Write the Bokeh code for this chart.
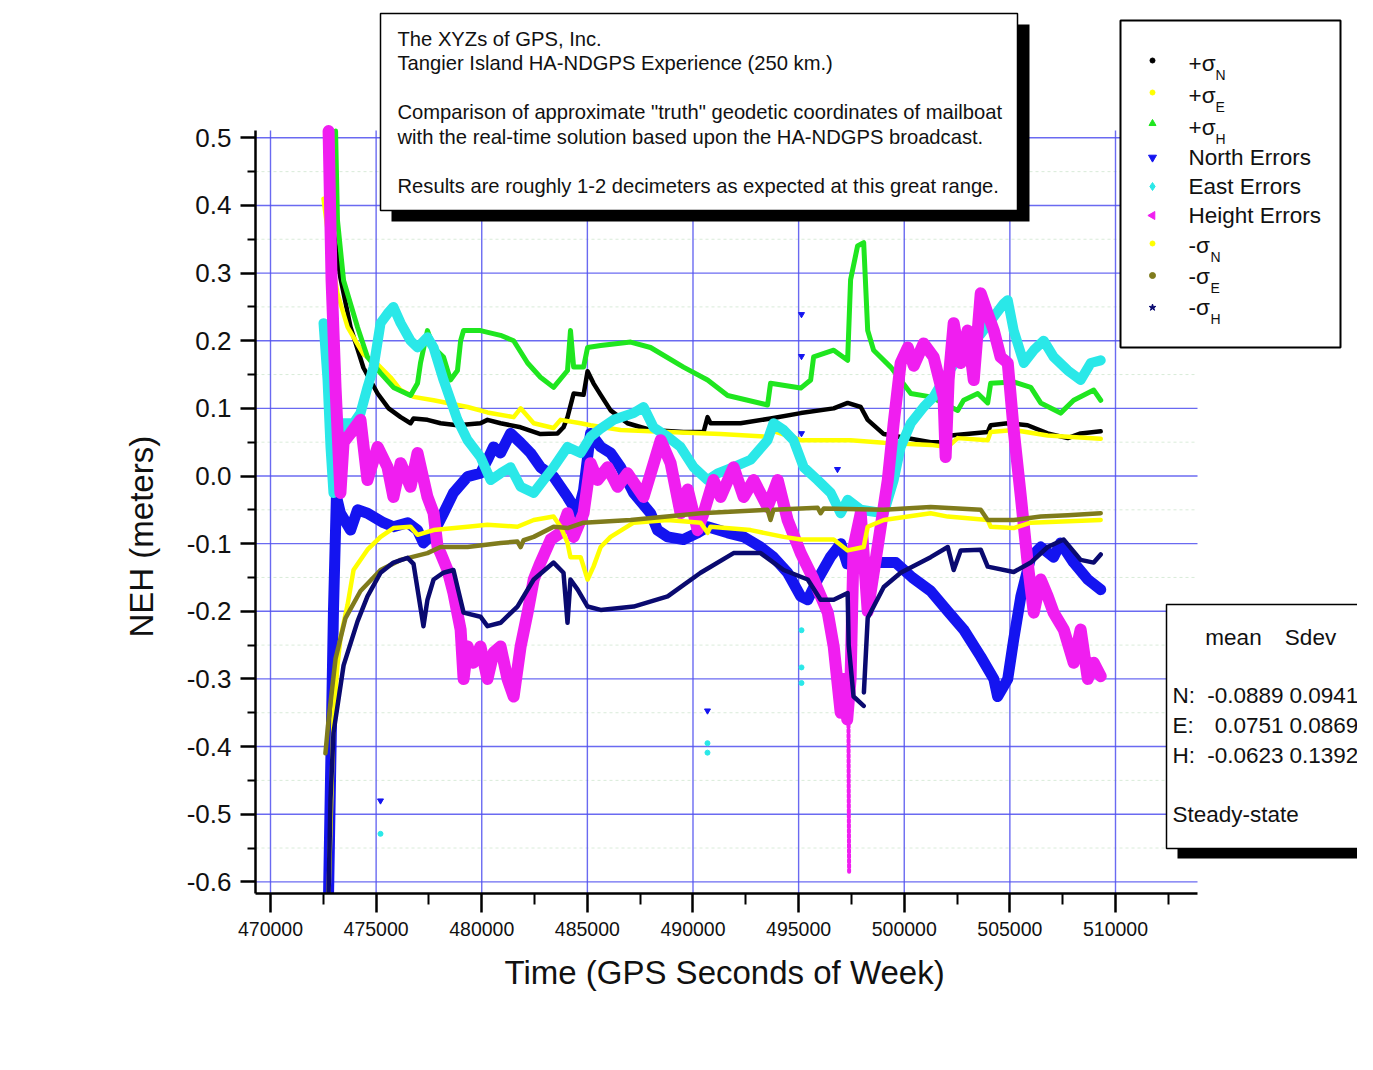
import numpy as np
from bokeh.plotting import figure
from bokeh.models import Range1d, LinearAxis, FixedTicker, PrintfTickFormatter, BasicTickFormatter, Title
from bokeh.embed import file_html
from bokeh.resources import INLINE
from bokeh.core.properties import value

FONT = "Liberation Sans"

# ---------------- data ----------------
x_tick_values = [470000, 475000, 480000, 485000, 490000, 495000, 500000, 505000, 510000]
x_minor_values = [472500, 477500, 482500, 487500, 492500, 497500, 502500, 507500, 512500]
y_tick_values = [-0.6, -0.5, -0.4, -0.3, -0.2, -0.1, 0.0, 0.1, 0.2, 0.3, 0.4, 0.5]
y_minor_values = [-0.55, -0.45, -0.35, -0.25, -0.15, -0.05, 0.05, 0.15, 0.25, 0.35, 0.45]

plus_sigma_n = [(472750, 0.51), (472840, 0.50), (472980, 0.363), (473310, 0.293), (473790, 0.22),
    (474400, 0.16), (475070, 0.122), (475590, 0.10), (476160, 0.087), (476630, 0.078),
    (476770, 0.085), (477430, 0.083), (478050, 0.078), (478850, 0.075), (479940, 0.078),
    (480270, 0.083), (480890, 0.078), (481840, 0.072), (482780, 0.062), (483590, 0.063),
    (483870, 0.072), (484060, 0.087), (484350, 0.122), (484820, 0.12), (485010, 0.155),
    (485290, 0.137), (485630, 0.12), (486100, 0.097), (486900, 0.078), (487990, 0.068),
    (489550, 0.065), (490500, 0.065), (490690, 0.087), (490830, 0.078), (492250, 0.078),
    (493670, 0.085), (495100, 0.093), (496660, 0.10), (497320, 0.108), (497940, 0.102),
    (498270, 0.083), (499030, 0.062), (501250, 0.05), (502060, 0.05), (502200, 0.06),
    (503950, 0.065), (504090, 0.075), (504900, 0.078), (505840, 0.075), (506790, 0.063),
    (507740, 0.056), (508350, 0.063), (509300, 0.066)]

plus_sigma_e = [(472510, 0.41), (472840, 0.33), (473170, 0.27), (473650, 0.22), (474400, 0.18),
    (475070, 0.165), (475680, 0.146), (476160, 0.127), (476770, 0.117), (477720, 0.112),
    (479330, 0.102), (480270, 0.094), (481510, 0.087), (481840, 0.10), (482460, 0.078),
    (483400, 0.071), (483730, 0.083), (484680, 0.078), (485150, 0.075), (486570, 0.068),
    (488800, 0.065), (491310, 0.062), (493530, 0.058), (493670, 0.068), (495100, 0.053),
    (497460, 0.053), (499030, 0.049), (501250, 0.046), (502060, 0.043), (502530, 0.056),
    (503950, 0.053), (504090, 0.065), (505180, 0.068), (506790, 0.06), (509300, 0.055)]

plus_sigma_h = [(473080, 0.51), (473170, 0.378), (473460, 0.289), (474120, 0.22), (474590, 0.176),
    (475210, 0.152), (475820, 0.131), (476630, 0.119), (476960, 0.137), (477100, 0.167),
    (477430, 0.215), (477720, 0.19), (478190, 0.176), (478520, 0.142), (478850, 0.156),
    (479000, 0.20), (479140, 0.215), (479940, 0.215), (480890, 0.208), (481510, 0.20),
    (482170, 0.167), (482780, 0.146), (483400, 0.131), (484060, 0.156), (484200, 0.215),
    (484350, 0.161), (484820, 0.161), (485010, 0.19), (485630, 0.193), (487050, 0.198),
    (487990, 0.19), (489550, 0.161), (490690, 0.142), (491640, 0.119), (493530, 0.105),
    (493670, 0.137), (495100, 0.13), (495570, 0.142), (495710, 0.176), (496660, 0.186),
    (497320, 0.171), (497460, 0.29), (497790, 0.34), (498080, 0.345), (498270, 0.215),
    (498550, 0.186), (499360, 0.161), (500310, 0.122), (501250, 0.117), (502530, 0.097),
    (502810, 0.112), (503480, 0.122), (503950, 0.108), (504090, 0.137), (505180, 0.139),
    (505990, 0.131), (506460, 0.108), (507400, 0.093), (508020, 0.112), (508970, 0.127),
    (509300, 0.112)]

north_errors = [(472750, -0.615), (472840, -0.45), (472980, -0.2), (473120, -0.03), (473310, -0.055),
    (473790, -0.08), (474120, -0.05), (474590, -0.055), (475350, -0.069), (475820, -0.075),
    (476490, -0.069), (476960, -0.08), (477240, -0.099), (477720, -0.084), (478190, -0.055),
    (478660, -0.025), (479330, -0.001), (479940, 0.004), (480270, 0.024), (480560, 0.043),
    (480890, 0.034), (481360, 0.063), (481840, 0.049), (482310, 0.034), (482780, 0.013),
    (483400, -0.001), (484060, -0.031), (484540, -0.055), (484820, -0.021), (485150, 0.063),
    (485630, 0.043), (486100, 0.034), (486570, 0.013), (487190, -0.025), (487990, -0.055),
    (488320, -0.08), (488800, -0.09), (489550, -0.094), (490220, -0.084), (490690, -0.075),
    (491640, -0.084), (492400, -0.09), (493200, -0.105), (493810, -0.12), (494480, -0.143),
    (495100, -0.178), (495430, -0.183), (495900, -0.153), (496500, -0.12), (497000, -0.10),
    (497300, -0.13), (498880, -0.128), (499600, -0.128), (500380, -0.15), (501250, -0.17),
    (502060, -0.2), (502810, -0.227), (503620, -0.267), (504240, -0.30), (504420, -0.326),
    (504900, -0.30), (505180, -0.242), (505520, -0.178), (505990, -0.12), (506460, -0.105),
    (507070, -0.12), (507400, -0.099), (508020, -0.128), (508690, -0.153), (509300, -0.168)]

east_errors = [(472510, 0.226), (472700, 0.142), (472840, 0.043), (472980, -0.025), (473170, 0.05),
    (473460, 0.078), (473930, 0.078), (474260, 0.093), (474590, 0.131), (474880, 0.161),
    (475210, 0.226), (475540, 0.24), (475820, 0.25), (476160, 0.226), (476630, 0.20),
    (476960, 0.19), (477430, 0.205), (477720, 0.19), (478190, 0.142), (478850, 0.083),
    (479330, 0.053), (479940, 0.028), (480420, -0.006), (480890, 0.004), (481360, 0.013),
    (481840, -0.016), (482460, -0.025), (482930, -0.006), (483400, 0.013), (484060, 0.043),
    (484680, 0.034), (485150, 0.058), (485630, 0.07), (486240, 0.083), (487190, 0.093),
    (487660, 0.102), (488130, 0.072), (488800, 0.058), (489410, 0.043), (490030, 0.013),
    (490690, -0.006), (491170, 0.004), (491920, 0.013), (492730, 0.024), (493530, 0.053),
    (493810, 0.078), (494290, 0.068), (494760, 0.053), (495240, 0.013), (495900, -0.006),
    (496520, -0.025), (496990, -0.055), (497320, -0.035), (497940, -0.05), (499030, -0.055),
    (499500, -0.006), (499830, 0.043), (500310, 0.078), (500920, 0.102), (501390, 0.117),
    (502060, 0.152), (502670, 0.18), (503620, 0.21), (504710, 0.255), (504900, 0.26),
    (505180, 0.215), (505660, 0.167), (506130, 0.186), (506600, 0.2), (507070, 0.176),
    (507740, 0.156), (508350, 0.142), (508830, 0.167), (509300, 0.171)]

height_errors = [(472750, 0.51), (472890, 0.29), (473080, 0.13), (473310, -0.025), (473460, 0.05),
    (473790, 0.063), (474260, 0.083), (474590, -0.006), (475070, 0.043), (475540, 0.013),
    (475820, -0.031), (476160, 0.019), (476630, -0.016), (476960, 0.034), (477430, -0.031),
    (477720, -0.055), (477910, -0.105), (478050, -0.114), (478380, -0.139), (478660, -0.173),
    (479000, -0.227), (479140, -0.30), (479330, -0.252), (479610, -0.276), (479940, -0.252),
    (480270, -0.30), (480560, -0.261), (480890, -0.252), (481220, -0.30), (481510, -0.326),
    (481840, -0.252), (482170, -0.202), (482460, -0.153), (482780, -0.128), (483260, -0.094),
    (483730, -0.084), (484060, -0.055), (484350, -0.09), (484820, -0.055), (485150, 0.019),
    (485480, -0.006), (485960, 0.013), (486430, -0.016), (486900, 0.004), (487660, -0.031),
    (488470, 0.053), (488940, 0.019), (489410, -0.055), (489750, -0.02), (490220, -0.08),
    (490500, -0.055), (490970, -0.006), (491310, -0.031), (491920, 0.013), (492400, -0.031),
    (492870, -0.006), (493530, -0.046), (494010, -0.006), (494480, -0.065), (495100, -0.114),
    (495710, -0.153), (496380, -0.202), (496660, -0.252), (496990, -0.35), (497130, -0.30),
    (497300, -0.36), (497460, -0.30), (497600, -0.105), (497940, -0.055),
    (498270, -0.20), (498740, -0.105), (499220, -0.006), (499500, 0.078), (499830, 0.167),
    (500170, 0.19), (500450, 0.163), (500920, 0.196), (501390, 0.176), (501860, 0.117),
    (501960, 0.028), (502100, 0.142), (502340, 0.226), (502670, 0.167), (503000, 0.215),
    (503290, 0.142), (503620, 0.27), (503950, 0.24), (504240, 0.215), (504560, 0.176),
    (504900, 0.167), (505180, 0.068), (505520, -0.031), (505840, -0.128), (506130, -0.202),
    (506460, -0.153), (506790, -0.178), (507070, -0.202), (507550, -0.227), (508020, -0.276),
    (508350, -0.227), (508690, -0.30), (508970, -0.276), (509300, -0.296)]

height_tail = [(497360, -0.36), (497370, -0.45), (497380, -0.52), (497390, -0.585)]

minus_sigma_n = [(472750, -0.615), (472840, -0.52), (472980, -0.36), (473170, -0.28), (473310, -0.24),
    (473650, -0.19), (473930, -0.139), (474590, -0.109), (475210, -0.09), (475820, -0.077),
    (476630, -0.075), (476960, -0.087), (477720, -0.08), (479330, -0.075), (480270, -0.072),
    (481690, -0.075), (482460, -0.065), (483400, -0.06), (483730, -0.075), (484060, -0.099),
    (484200, -0.12), (484680, -0.12), (485010, -0.153), (485290, -0.134), (485630, -0.105),
    (486100, -0.09), (487190, -0.069), (488800, -0.065), (490360, -0.069), (490690, -0.084),
    (490830, -0.075), (492730, -0.08), (494290, -0.09), (495100, -0.094), (496660, -0.094),
    (497320, -0.11), (498080, -0.105), (498270, -0.075), (499030, -0.065), (501250, -0.055),
    (502060, -0.06), (503950, -0.065), (504090, -0.075), (505180, -0.077), (505990, -0.069),
    (509300, -0.065)]

minus_sigma_e = [(472600, -0.41), (472750, -0.36), (473080, -0.27), (473550, -0.21), (474260, -0.17),
    (475210, -0.139), (476160, -0.124), (477430, -0.114), (478050, -0.105), (479330, -0.105),
    (480890, -0.099), (481690, -0.097), (481840, -0.105), (481980, -0.095), (482460, -0.09),
    (483400, -0.075), (484060, -0.077), (484820, -0.069), (487050, -0.065), (490360, -0.055),
    (493530, -0.05), (493670, -0.065), (493810, -0.05), (495900, -0.047), (496040, -0.055),
    (496190, -0.048), (499030, -0.05), (501250, -0.046), (503620, -0.05), (503950, -0.065),
    (505180, -0.065), (506460, -0.06), (507740, -0.058), (509300, -0.055)]

minus_sigma_h = [(472750, -0.615), (472840, -0.478), (472980, -0.38), (473460, -0.28), (474120, -0.215),
    (474590, -0.178), (475210, -0.143), (475820, -0.128), (476490, -0.121), (476770, -0.13),
    (477240, -0.222), (477430, -0.183), (477720, -0.153), (478190, -0.143), (478660, -0.139),
    (478850, -0.164), (479140, -0.202), (479940, -0.208), (480270, -0.222), (480890, -0.217),
    (481690, -0.193), (482460, -0.153), (483400, -0.128), (483870, -0.143), (484060, -0.217),
    (484200, -0.153), (484540, -0.168), (485010, -0.193), (485630, -0.198), (487190, -0.193),
    (488800, -0.178), (490360, -0.143), (491920, -0.114), (493200, -0.114), (494290, -0.139),
    (495430, -0.153), (496040, -0.183), (496660, -0.183), (497320, -0.173), (497370, -0.25),
    (497600, -0.326), (498080, -0.34), (498080, np.nan), (498090, -0.32), (498270, -0.21),
    (499030, -0.164), (499830, -0.143), (501250, -0.12), (502060, -0.105), (502340, -0.139),
    (502670, -0.11), (503620, -0.109), (503950, -0.134), (505180, -0.142), (505990, -0.128),
    (506790, -0.105), (507550, -0.094), (508350, -0.124), (508970, -0.128), (509300, -0.116)]

north_outliers = [(475207, -0.48), (490686, -0.347), (495136, 0.239), (495136, 0.177),
                  (495136, 0.063), (496840, 0.01)]
east_outliers = [(475207, -0.529), (490686, -0.395), (490686, -0.409), (495136, -0.228),
                 (495136, -0.283), (495136, -0.306)]

title_lines = ["The XYZs of GPS, Inc.",
               "Tangier Island HA-NDGPS Experience (250 km.)",
               "Comparison of approximate \"truth\" geodetic coordinates of mailboat",
               "with the real-time solution based upon the HA-NDGPS broadcast.",
               "Results are roughly 1-2 decimeters as expected at this great range."]

legend_main = ["+\u03c3", "+\u03c3", "+\u03c3", "North Errors", "East Errors", "Height Errors",
               "-\u03c3", "-\u03c3", "-\u03c3"]
legend_sub = ["N", "E", "H", "", "", "", "N", "E", "H"]

stats_rows = ["N:", "E:", "H:"]
stats_mean = ["-0.0889", "0.0751", "-0.0623"]
stats_sdev = ["0.0941", "0.0869", "0.1392"]

# ---------------- layout helpers (picture px -> data) ----------------
PX_PER_X = 0.021125
PX_PER_Y = 676.4
X_LO = 469290.0
FIG_W, FIG_H = 1357, 1054
FRAME_L, FRAME_B = 255, 893


def X(px):
    return X_LO + (px - FRAME_L) / PX_PER_X


def Y(py):
    return (475.5 - py) / PX_PER_Y


p = figure(width=FIG_W, height=FIG_H, output_backend="svg", toolbar_location=None,
           x_range=Range1d(X(FRAME_L), X(FIG_W)), y_range=Range1d(Y(FRAME_B), Y(0)),
           x_axis_type=None, y_axis_type=None,
           min_border_left=FRAME_L, min_border_right=0, min_border_top=0,
           min_border_bottom=FIG_H - FRAME_B)
p.outline_line_color = None
p.background_fill_color = "white"
p.border_fill_color = "white"

# axes
xaxis = LinearAxis(bounds=(X(FRAME_L), X(1197)),
                   ticker=FixedTicker(ticks=x_tick_values, minor_ticks=x_minor_values),
                   formatter=BasicTickFormatter(use_scientific=False))
yaxis = LinearAxis(bounds=(Y(FRAME_B), Y(130)),
                   ticker=FixedTicker(ticks=y_tick_values, minor_ticks=y_minor_values),
                   formatter=PrintfTickFormatter(format="%.1f"))
for ax in (xaxis, yaxis):
    ax.axis_line_color = "black"
    ax.axis_line_width = 2.5
    ax.major_tick_line_color = "black"
    ax.minor_tick_line_color = "black"
    ax.major_tick_line_width = 2.5
    ax.minor_tick_line_width = 2
    ax.major_tick_in = 0
    ax.minor_tick_in = 0
    ax.major_label_text_font = FONT
    ax.major_label_text_color = "#111111"
xaxis.major_tick_out = 19
xaxis.minor_tick_out = 11
xaxis.major_label_text_font_size = "19.5px"
xaxis.major_label_standoff = 9
yaxis.major_tick_out = 15
yaxis.minor_tick_out = 8
yaxis.major_label_text_font_size = "26px"
yaxis.major_label_standoff = 9
p.add_layout(xaxis, "below")
p.add_layout(yaxis, "left")

p.add_layout(Title(text="Time (GPS Seconds of Week)", align="left", offset=249, standoff=26,
                   text_font=FONT, text_font_size="33px", text_font_style="normal",
                   text_color="#111111"), "below")
p.add_layout(Title(text="NEH (meters)", align="left", offset=256, standoff=48,
                   text_font=FONT, text_font_size="33px", text_font_style="normal",
                   text_color="#111111"), "left")

# grid lines from tick values
p.segment(x0=[X(FRAME_L)] * len(y_minor_values), x1=[X(1197)] * len(y_minor_values),
          y0=y_minor_values, y1=y_minor_values, line_color="#cfe6cf", line_width=1,
          line_dash="3 3", line_alpha=0.8)
p.segment(x0=x_tick_values, x1=x_tick_values, y0=[Y(FRAME_B)] * len(x_tick_values),
          y1=[Y(130)] * len(x_tick_values), line_color="#5050ee", line_width=1.4, line_alpha=0.85)
p.segment(x0=[X(FRAME_L)] * len(y_tick_values), x1=[X(1197)] * len(y_tick_values),
          y0=y_tick_values, y1=y_tick_values, line_color="#5050ee", line_width=1.4, line_alpha=0.85)


def draw(pairs, color, width, dash="solid"):
    xs = [a for a, b in pairs]
    ys = [b for a, b in pairs]
    p.line(xs, ys, line_color=color, line_width=width, line_join="round", line_cap="round",
           line_dash=dash)


C_BLACK = "#000000"
C_YEL = "#ffff00"
C_GRN = "#1fe61f"
C_BLUE = "#1414f0"
C_CYAN = "#2ae8e8"
C_MAG = "#f01ef0"
C_OLIVE = "#7f7b1c"
C_NAVY = "#0a0a70"

draw(plus_sigma_n, C_BLACK, 4.5)
draw(plus_sigma_e, C_YEL, 4.5)
draw(plus_sigma_h, C_GRN, 5)
draw(north_errors, C_BLUE, 11)
draw(east_errors, C_CYAN, 10)
draw(height_errors, C_MAG, 12)
draw(height_tail, C_MAG, 4, dash="3 2")
draw(minus_sigma_n, C_YEL, 4.5)
draw(minus_sigma_e, C_OLIVE, 4.5)
draw(minus_sigma_h, C_NAVY, 4.5)

p.scatter([a for a, b in north_outliers], [b for a, b in north_outliers],
          marker="inverted_triangle", size=6, color=C_BLUE)
p.scatter([a for a, b in east_outliers], [b for a, b in east_outliers],
          marker="circle", size=5, color=C_CYAN)

# ---------------- title box ----------------
p.quad(left=[X(391)], right=[X(1029)], top=[Y(24)], bottom=[Y(221)], fill_color="black", line_color=None)
p.quad(left=[X(380)], right=[X(1017)], top=[Y(13)], bottom=[Y(210)], fill_color="white",
       line_color="black", line_width=1.5)
p.text(x=[X(397)] * 5, y=[Y(v) for v in [38, 62, 111, 136, 185]], text=title_lines,
       text_font=value(FONT), text_font_size="20.2px", text_baseline="middle", text_align="left",
       text_color="#111111")

# ---------------- legend box ----------------
p.quad(left=[X(1120)], right=[X(1340)], top=[Y(20)], bottom=[Y(347)], fill_color="white",
       line_color="black", line_width=2)
row_y = [63, 95, 127, 157, 186, 215, 245, 276, 307]
mark_y = [60, 92, 123, 157, 186, 215, 243, 275, 307]
mk = [("circle", C_BLACK, 5, 0), ("circle", C_YEL, 5, 0), ("triangle", C_GRN, 7, 0),
      ("inverted_triangle", C_BLUE, 8, 0), ("diamond", C_CYAN, 8, 0), ("triangle", C_MAG, 8, np.pi / 2),
      ("circle", C_YEL, 5, 0), ("circle", C_OLIVE, 6, 0), ("star", C_NAVY, 7, 0)]
for i, (m, c, s, a) in enumerate(mk):
    p.scatter([X(1152)], [Y(mark_y[i])], marker=m, size=s, color=c, angle=a)
p.text(x=[X(1188)] * 9, y=[Y(v) for v in row_y], text=legend_main, text_font=value(FONT),
       text_font_size="22.5px", text_baseline="middle", text_align="left", text_color="#111111")
sub_x = [1215, 1215, 1215, 0, 0, 0, 1210, 1210, 1210]
idx = [i for i in range(9) if legend_sub[i]]
p.text(x=[X(sub_x[i]) for i in idx], y=[Y(row_y[i] + 11) for i in idx],
       text=[legend_sub[i] for i in idx], text_font=value(FONT), text_font_size="14px",
       text_baseline="middle", text_align="left", text_color="#111111")

# ---------------- statistics box ----------------
p.quad(left=[X(1177)], right=[X(FIG_W)], top=[Y(614)], bottom=[Y(858)], fill_color="black", line_color=None)
p.quad(left=[X(1166)], right=[X(1372)], top=[Y(604)], bottom=[Y(848)], fill_color="white",
       line_color="black", line_width=1.5)
p.text(x=[X(1233), X(1310)], y=[Y(637), Y(637)], text=["mean", "Sdev"], text_font=value(FONT),
       text_font_size="22.5px", text_baseline="middle", text_align="center", text_color="#111111")
ry = [Y(695), Y(725), Y(755)]
p.text(x=[X(1172)] * 3, y=ry, text=stats_rows, text_font=value(FONT), text_font_size="22.5px",
       text_baseline="middle", text_align="left", text_color="#111111")
p.text(x=[X(1283)] * 3, y=ry, text=stats_mean, text_font=value(FONT), text_font_size="22.5px",
       text_baseline="middle", text_align="right", text_color="#111111")
p.text(x=[X(1289)] * 3, y=ry, text=stats_sdev, text_font=value(FONT), text_font_size="22.5px",
       text_baseline="middle", text_align="left", text_color="#111111")
p.text(x=[X(1172)], y=[Y(814)], text=["Steady-state"], text_font=value(FONT), text_font_size="22.5px",
       text_baseline="middle", text_align="left", text_color="#111111")

open("out.html", "w").write(file_html(p, INLINE))
